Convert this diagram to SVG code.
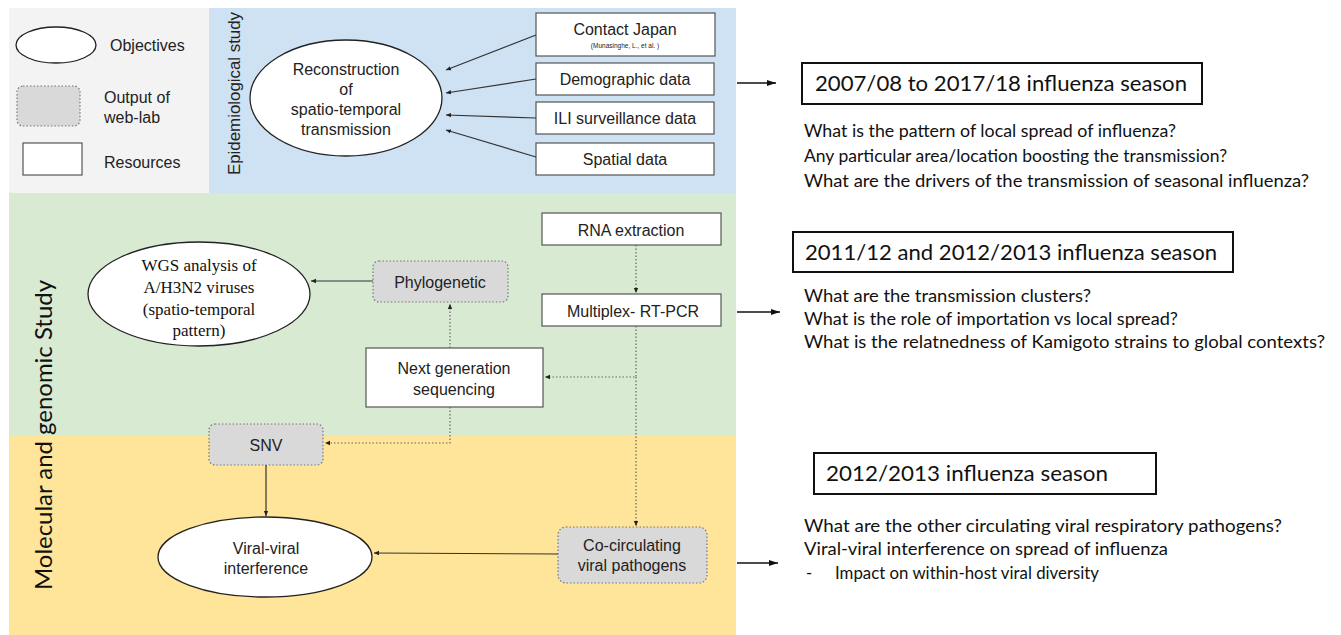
<svg xmlns="http://www.w3.org/2000/svg" width="1341" height="635" viewBox="0 0 1341 635">
<style>
.sans{font-family:"Liberation Sans",Arial,sans-serif;fill:#222;}
.serif{font-family:"Liberation Serif","Times New Roman",serif;fill:#111;}
.cal{font-family:Lato,"Open Sans",sans-serif;fill:#111;}
.res{fill:#fff;stroke:#555;stroke-width:1.2;}
.out{fill:#d9d9d9;stroke:#777;stroke-width:1.2;stroke-dasharray:1.5 2;}
.obj{fill:#fff;stroke:#222;stroke-width:1.3;}
.solid{fill:none;stroke:#333;stroke-width:1.2;}
.dot{fill:none;stroke:#666;stroke-width:1.2;stroke-dasharray:1.5 2;}
.big{fill:none;stroke:#111;stroke-width:1.5;}
.qbox{fill:#fff;stroke:#111;stroke-width:2;}
</style>
<defs>
<marker id="ah" markerWidth="6" markerHeight="6" refX="5" refY="3" orient="auto" markerUnits="userSpaceOnUse">
<path d="M0,0.8 L5,3 L0,5.2 z" fill="#222"/>
</marker>
<marker id="ahb" markerWidth="10" markerHeight="10" refX="9" refY="5" orient="auto" markerUnits="userSpaceOnUse">
<path d="M0,2 L9,5 L0,8 z" fill="#111"/>
</marker>
</defs>
<rect width="1341" height="635" fill="#fff"/>
<g id="panels">
<rect x="9" y="8" width="200" height="185" fill="#f3f3f3"/>
<rect x="209" y="8" width="527" height="185" fill="#cfe2f3"/>
<rect x="9" y="193" width="727" height="243" fill="#d9ead3"/>
<rect x="9" y="436" width="727" height="199" fill="#ffe599"/>
<text class="sans" font-size="16" transform="translate(240,175) rotate(-90)" textLength="163" lengthAdjust="spacingAndGlyphs">Epidemiological study</text>
<text class="cal" font-size="24" transform="translate(52,590) rotate(-90)" textLength="310" lengthAdjust="spacingAndGlyphs">Molecular and genomic Study</text>
</g>
<g id="legend">
<ellipse class="obj" cx="56" cy="45" rx="40" ry="18"/>
<text class="sans" x="110" y="51" font-size="16">Objectives</text>
<rect class="out" x="17" y="86" width="63" height="40" rx="6"/>
<text class="sans" x="104" y="103" font-size="16">Output of</text>
<text class="sans" x="104" y="123" font-size="16">web-lab</text>
<rect class="res" x="23" y="143" width="59" height="32"/>
<text class="sans" x="104" y="168" font-size="16">Resources</text>
</g>
<g id="n_recon">
<ellipse class="obj" cx="346" cy="98" rx="96" ry="58"/>
<text class="sans" font-size="16" text-anchor="middle" x="346" y="75">Reconstruction</text>
<text class="sans" font-size="16" text-anchor="middle" x="346" y="95">of</text>
<text class="sans" font-size="16" text-anchor="middle" x="346" y="115">spatio-temporal</text>
<text class="sans" font-size="16" text-anchor="middle" x="346" y="135">transmission</text>
</g>
<g id="n_contact">
<rect class="res" x="536" y="13" width="179" height="43"/>
<text class="sans" font-size="16" text-anchor="middle" x="625" y="35">Contact Japan</text>
<text class="sans" font-size="6.5" text-anchor="middle" x="625" y="48">(Munasinghe, L., et al. )</text>
</g>
<g id="n_demo">
<rect class="res" x="536" y="63" width="178" height="32"/>
<text class="sans" font-size="16" text-anchor="middle" x="625" y="85">Demographic data</text>
</g>
<g id="n_ili">
<rect class="res" x="536" y="102" width="178" height="32"/>
<text class="sans" font-size="16" text-anchor="middle" x="625" y="124">ILI surveillance data</text>
</g>
<g id="n_spatial">
<rect class="res" x="536" y="143" width="178" height="32"/>
<text class="sans" font-size="16" text-anchor="middle" x="625" y="165">Spatial data</text>
</g>
<g id="n_wgs">
<ellipse class="obj" cx="199" cy="294" rx="111" ry="52"/>
<text class="serif" font-size="17" text-anchor="middle" x="199" y="271">WGS analysis of</text>
<text class="serif" font-size="17" text-anchor="middle" x="199" y="293">A/H3N2 viruses</text>
<text class="serif" font-size="17" text-anchor="middle" x="199" y="315">(spatio-temporal</text>
<text class="serif" font-size="17" text-anchor="middle" x="199" y="336">pattern)</text>
</g>
<g id="n_phylo">
<rect class="out" x="373" y="261" width="135" height="41" rx="6"/>
<text class="sans" font-size="16" text-anchor="middle" x="440" y="288">Phylogenetic</text>
</g>
<g id="n_rna">
<rect class="res" x="542" y="213" width="179" height="32"/>
<text class="sans" font-size="16" text-anchor="middle" x="631" y="236">RNA extraction</text>
</g>
<g id="n_pcr">
<rect class="res" x="542" y="294" width="179" height="32"/>
<text class="sans" font-size="16" text-anchor="middle" x="633" y="317">Multiplex- RT-PCR</text>
</g>
<g id="n_ngs">
<rect class="res" x="366" y="348" width="177" height="59"/>
<text class="sans" font-size="16" text-anchor="middle" x="454" y="374">Next generation</text>
<text class="sans" font-size="16" text-anchor="middle" x="454" y="395">sequencing</text>
</g>
<g id="n_snv">
<rect class="out" x="209" y="424" width="114" height="41" rx="6"/>
<text class="sans" font-size="16" text-anchor="middle" x="266" y="451">SNV</text>
</g>
<g id="n_viral">
<ellipse class="obj" cx="265" cy="557" rx="107" ry="40"/>
<text class="sans" font-size="16" text-anchor="middle" x="266" y="554">Viral-viral</text>
<text class="sans" font-size="16" text-anchor="middle" x="266" y="574">interference</text>
</g>
<g id="n_cocirc">
<rect class="out" x="558" y="527" width="149" height="56" rx="8"/>
<text class="sans" font-size="16" text-anchor="middle" x="632" y="551">Co-circulating</text>
<text class="sans" font-size="16" text-anchor="middle" x="632" y="571">viral pathogens</text>
</g>
<g id="q_epi">
<rect class="qbox" x="802" y="63" width="400" height="41"/>
<text class="cal" font-size="22" x="815" y="91" textLength="372" lengthAdjust="spacingAndGlyphs">2007/08 to 2017/18 influenza season</text>
<text class="cal" font-size="16.5" x="804" y="137" textLength="372" lengthAdjust="spacingAndGlyphs">What is the pattern of local spread of influenza?</text>
<text class="cal" font-size="16.5" x="804" y="162" textLength="423" lengthAdjust="spacingAndGlyphs">Any particular area/location boosting the transmission?</text>
<text class="cal" font-size="16.5" x="804" y="187" textLength="505" lengthAdjust="spacingAndGlyphs">What are the drivers of the transmission of seasonal influenza?</text>
</g>
<g id="q_mol">
<rect class="qbox" x="793" y="232" width="440" height="40"/>
<text class="cal" font-size="22" x="805" y="260" textLength="412" lengthAdjust="spacingAndGlyphs">2011/12 and 2012/2013 influenza season</text>
<text class="cal" font-size="16.5" x="804" y="302" textLength="287" lengthAdjust="spacingAndGlyphs">What are the transmission clusters?</text>
<text class="cal" font-size="16.5" x="804" y="325" textLength="374" lengthAdjust="spacingAndGlyphs">What is the role of importation vs local spread?</text>
<text class="cal" font-size="16.5" x="804" y="348" textLength="521" lengthAdjust="spacingAndGlyphs">What is the relatnedness of Kamigoto strains to global contexts?</text>
</g>
<g id="q_viral">
<rect class="qbox" x="814" y="453" width="342" height="41"/>
<text class="cal" font-size="22" x="826" y="481" textLength="282" lengthAdjust="spacingAndGlyphs">2012/2013 influenza season</text>
<text class="cal" font-size="16.5" x="804" y="532" textLength="478" lengthAdjust="spacingAndGlyphs">What are the other circulating viral respiratory pathogens?</text>
<text class="cal" font-size="16.5" x="804" y="555" textLength="364" lengthAdjust="spacingAndGlyphs">Viral-viral interference on spread of influenza</text>
<text class="cal" font-size="16.5" x="806" y="579">-</text>
<text class="cal" font-size="16.5" x="835" y="579" textLength="264" lengthAdjust="spacingAndGlyphs">Impact on within-host viral diversity</text>
</g>
<g id="connectors">
<line class="solid" x1="536" y1="35" x2="446" y2="70" marker-end="url(#ah)"/>
<line class="solid" x1="536" y1="79" x2="446" y2="93" marker-end="url(#ah)"/>
<line class="solid" x1="536" y1="118" x2="446" y2="115" marker-end="url(#ah)"/>
<line class="solid" x1="536" y1="157" x2="446" y2="130" marker-end="url(#ah)"/>
<line class="solid" x1="373" y1="281" x2="311" y2="281" marker-end="url(#ah)"/>
<line class="dot" x1="636" y1="245" x2="636" y2="293" marker-end="url(#ah)"/>
<polyline class="dot" points="636,326 636,377 545,377" marker-end="url(#ah)"/>
<line class="dot" x1="636" y1="377" x2="636" y2="526" marker-end="url(#ah)"/>
<line class="dot" x1="450" y1="348" x2="450" y2="304" marker-end="url(#ah)"/>
<polyline class="dot" points="450,407 450,443 325,443" marker-end="url(#ah)"/>
<line class="solid" x1="266" y1="465" x2="266" y2="516" marker-end="url(#ah)"/>
<line class="solid" x1="558" y1="554" x2="374" y2="553" marker-end="url(#ah)"/>
<line class="big" x1="737" y1="83" x2="776" y2="83" marker-end="url(#ahb)"/>
<line class="big" x1="737" y1="312" x2="780" y2="312" marker-end="url(#ahb)"/>
<line class="big" x1="737" y1="563" x2="778" y2="563" marker-end="url(#ahb)"/>
</g>
</svg>
